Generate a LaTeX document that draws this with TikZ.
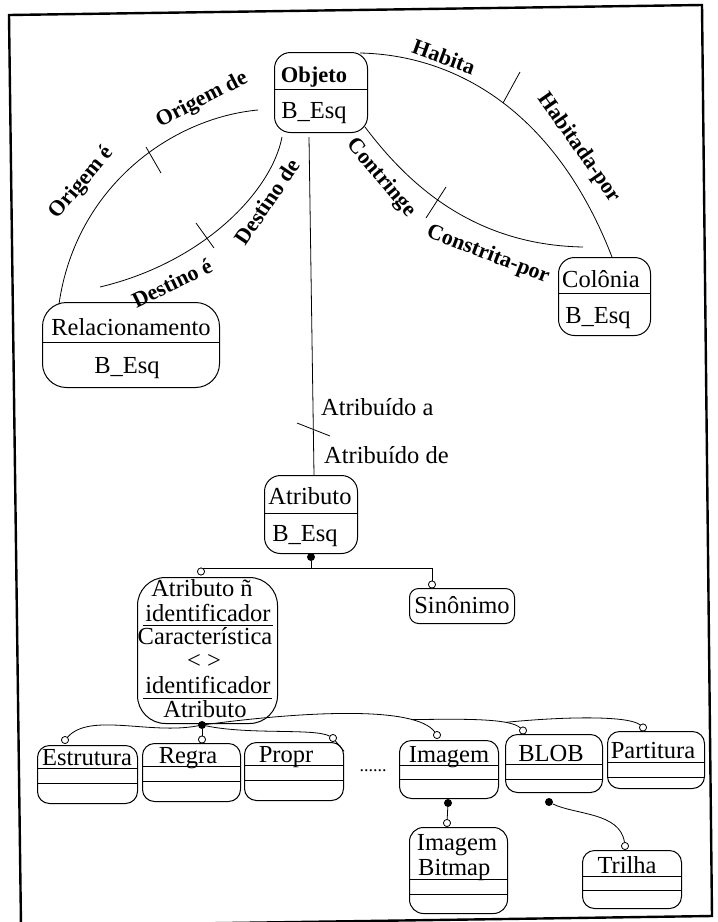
\documentclass[tikz,border=0pt]{standalone}
\usepackage{fontspec}
\setmainfont{Liberation Serif}
\usetikzlibrary{calc}
\begin{document}
\begin{tikzpicture}[x=1pt,y=-1pt,
  ebox/.style={draw, rounded corners=#1, line width=1pt, inner sep=0pt, anchor=north west},
  ebox/.default=12pt,
  txt/.style={anchor=base, inner sep=0pt, font=\fontsize{24.5}{26}\selectfont},
  lbl/.style={inner sep=0pt, font=\bfseries\fontsize{22}{24}\selectfont},
  conn/.style={line width=0.8pt},
  dv/.style={line width=0.9pt},
  odot/.style={circle, draw, fill=white, inner sep=0pt, minimum size=7pt, line width=0.7pt},
  fdot/.style={circle, fill=black, inner sep=0pt, minimum size=8pt},
]
\useasboundingbox (0,0) rectangle (718,922);
% frame
\draw[line width=2.4pt] (9,15) -- (702,5) -- (712,916) -- (21,926) -- cycle;

% ---------- boxes ----------
\node[ebox=16pt, minimum width=93pt, minimum height=80pt] (obj) at (274,52) {};
\draw[dv] (obj.west |- 0,89) -- (obj.east |- 0,89);
\node[txt, font=\bfseries\fontsize{22.5}{24}\selectfont] (objT) at (314,82) {Objeto};
\node[txt] (objB) at (314,118) {B\_Esq};

\node[ebox=24pt, minimum width=177pt, minimum height=85pt] (rel) at (42,302) {};
\draw[dv] (rel.west |- 0,342) -- (rel.east |- 0,342);
\node[txt] (relT) at (131,335) {Relacionamento};
\node[txt] (relB) at (127,373) {B\_Esq};

\node[ebox=16pt, minimum width=92pt, minimum height=78pt] (col) at (558,257) {};
\draw[dv] (col.west |- 0,293) -- (col.east |- 0,293);
\node[txt] (colT) at (601,287) {Colônia};
\node[txt] (colB) at (598,323) {B\_Esq};

\node[ebox=16pt, minimum width=93pt, minimum height=78pt] (atr) at (264,475) {};
\draw[dv] (atr.west |- 0,513) -- (atr.east |- 0,513);
\node[txt] (atrT) at (310,504) {Atributo};
\node[txt] (atrB) at (305,541) {B\_Esq};

\node[ebox=28pt, minimum width=140pt, minimum height=146pt] (big) at (137,577) {};
\node[txt] (bg1) at (202,596) {Atributo ñ};
\node[txt] (bg2) at (208,621) {identificador};
\draw[dv] (143,625) -- (273,625);
\node[txt] (bg3) at (205,644) {Característica};
\node[txt] (bg4) at (204,668) {< >};
\node[txt] (bg5) at (208,693) {identificador};
\draw[dv] (143,698) -- (272,698);
\node[txt] (bg6) at (205,717) {Atributo};

\node[ebox=9pt, minimum width=105pt, minimum height=35pt] (sin) at (409,588) {};
\node[txt] (sinT) at (462,613) {Sinônimo};

\node[ebox, minimum width=100pt, minimum height=58pt] (estr) at (37,745) {};
\draw[dv] (estr.west |- 0,768) -- (estr.east |- 0,768);
\draw[dv] (estr.west |- 0,783) -- (estr.east |- 0,783);
\node[txt] (estrT) at (87,765) {Estrutura};

\node[ebox, minimum width=98pt, minimum height=58pt] (regra) at (142,743) {};
\draw[dv] (regra.west |- 0,766) -- (regra.east |- 0,766);
\draw[dv] (regra.west |- 0,781) -- (regra.east |- 0,781);
\node[txt] (regraT) at (188,763) {Regra};

\node[ebox, minimum width=99pt, minimum height=58pt] (propr) at (244,742) {};
\draw[dv] (propr.west |- 0,765) -- (propr.east |- 0,765);
\draw[dv] (propr.west |- 0,780) -- (propr.east |- 0,780);
\node[txt] (proprT) at (286,762) {Propr};

\node[txt, font=\fontsize{18}{20}\selectfont] (dots) at (373,771) {......};

\node[ebox, minimum width=99pt, minimum height=58pt] (imag) at (399,740) {};
\draw[dv] (imag.west |- 0,765) -- (imag.east |- 0,765);
\draw[dv] (imag.west |- 0,779) -- (imag.east |- 0,779);
\node[txt] (imagT) at (449,762) {Imagem};

\node[ebox, minimum width=97pt, minimum height=58pt] (blob) at (505,734) {};
\draw[dv] (blob.west |- 0,764) -- (blob.east |- 0,764);
\draw[dv] (blob.west |- 0,779) -- (blob.east |- 0,779);
\node[txt] (blobT) at (551,761) {BLOB};

\node[ebox, minimum width=97pt, minimum height=57pt] (part) at (607,731) {};
\draw[dv] (part.west |- 0,762) -- (part.east |- 0,762);
\draw[dv] (part.west |- 0,777) -- (part.east |- 0,777);
\node[txt] (partT) at (653,758) {Partitura};

\node[ebox=14pt, minimum width=98pt, minimum height=86pt] (bitm) at (409,827) {};
\draw[dv] (bitm.west |- 0,879) -- (bitm.east |- 0,879);
\draw[dv] (bitm.west |- 0,894) -- (bitm.east |- 0,894);
\node[txt] (bitmT) at (457,850) {Imagem};
\node[txt, anchor=base west] (bitmU) at (418,875) {Bitmap};

\node[ebox, minimum width=99pt, minimum height=58pt] (tril) at (582,850) {};
\draw[dv] (tril.west |- 0,876) -- (tril.east |- 0,876);
\draw[dv] (tril.west |- 0,890) -- (tril.east |- 0,890);
\node[txt] (trilT) at (627,873) {Trilha};

% ---------- upper connectors ----------
\coordinate (oA) at (258,110);
\coordinate (oB) at (59,304);
\draw[conn] (oA) .. controls (172,118) and (76,186) .. (oB);
\draw[conn] (146,147) -- (161,173);

\coordinate (dA) at (282,137);
\coordinate (dB) at (100,287);
\draw[conn] (dA) .. controls (272,190) and (205,262) .. (dB);
\draw[conn] (196,223) -- (214,248);

\coordinate (vA) at (309,137);
\coordinate (vB) at (314,475);
\draw[conn] (vA) -- (vB);
\draw[conn] (297,423) -- (330,436);

\coordinate (hA) at (360,53);
\coordinate (hB) at (612,257);
\draw[conn] (hA) .. controls (455,55) and (555,110) .. (hB);
\draw[conn] (520,72) -- (503,103);

\coordinate (cA) at (365,127);
\coordinate (cB) at (583,247);
\draw[conn] (cA) .. controls (405,180) and (470,245) .. (cB);
\draw[conn] (446,187) -- (426,218);

% ---------- connector labels ----------
\node[lbl, rotate=27] (l1) at (202,100) {Origem de};
\node[lbl, rotate=50] (l2) at (82,183) {Origem é};
\node[lbl, rotate=56] (l3) at (267,202) {Destino de};
\node[lbl, rotate=26] (l4) at (172,283) {Destino é};
\node[lbl, rotate=-20] (l5) at (444,57) {Habita};
\node[lbl, rotate=-55] (l6) at (579,148) {Habitada-por};
\node[lbl, rotate=-50] (l7) at (381,178) {Contringe};
\node[lbl, rotate=-21] (l8) at (488,255) {Constrita-por};
\node[txt, anchor=base west] (l9) at (321,415) {Atribuído a};
\node[txt, anchor=base west] (l10) at (324,463) {Atribuído de};

% ---------- lower connectors ----------
\node[fdot] (atrD) at (311,557) {};
\coordinate (atrJ) at (311,568);
\node[odot] (atrL) at (201,571.5) {};
\node[odot] (atrR) at (432,584.5) {};
\draw[conn] (atrD) -- (atrJ) -| (atrR);
\draw[conn] (atrJ) -- (atrJ -| atrL) -- (atrL);

\node[fdot] (bigD) at (202,725) {};
\node[odot] (estrC) at (65,740) {};
\node[odot] (regraC) at (202,739.5) {};
\node[odot] (proprC) at (333,738) {};
\node[odot] (imagC) at (437,735) {};
\node[odot] (blobC) at (523,730.5) {};
\node[odot] (partC) at (643,727.5) {};
\draw[conn] (bigD) .. controls (150,735) and (90,712) .. (estrC);
\draw[conn] (bigD) -- (regraC);
\draw[conn] (bigD) .. controls (250,735) and (315,728) .. (proprC);
\draw[conn] (proprC) -- (propr.22);
\draw[conn] (bigD) .. controls (300,712) and (415,705) .. coordinate[pos=0.8] (brA) (imagC);
\draw[conn] (brA) .. controls (460,719) and (510,718) .. coordinate[pos=0.75] (brB) (blobC);
\draw[conn] (brB) .. controls (570,716) and (630,716) .. (partC);

\node[fdot] (imagD) at (448,803) {};
\node[odot] (bitmC) at (447,823) {};
\draw[conn] (imagD) -- (bitmC);

\node[fdot] (blobD) at (549,802) {};
\node[odot] (trilC) at (625,846) {};
\draw[conn] (blobD) .. controls (575,815) and (620,812) .. (trilC);

% redraw circles on top
\foreach \c in {atrL,atrR,estrC,regraC,proprC,imagC,blobC,partC,bitmC,trilC}
  \node[odot] at (\c) {};
\end{tikzpicture}
\end{document}
